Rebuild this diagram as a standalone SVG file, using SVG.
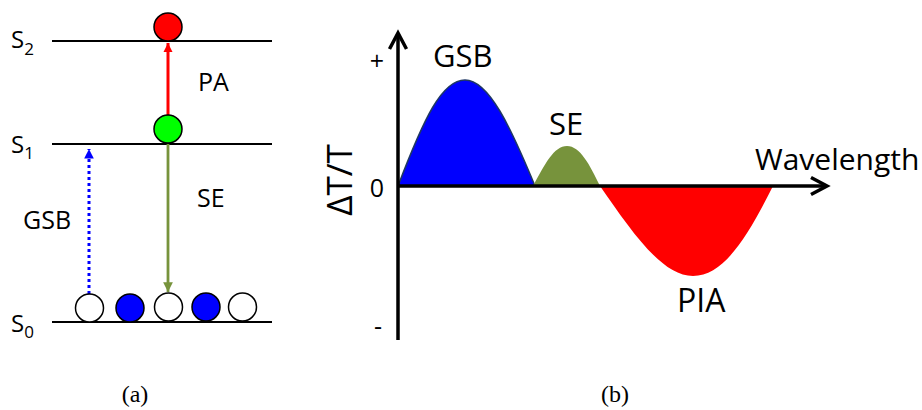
<svg xmlns="http://www.w3.org/2000/svg" width="922" height="410" viewBox="0 0 922 410">
<style>
  .lbl { font-family: "Open Sans", "Liberation Sans", sans-serif; fill: #000; }
  .cap { font-family: "Liberation Serif", "DejaVu Serif", serif; font-size: 24px; fill: #000; }
  .level { stroke: #000; stroke-width: 2; }
  .circ { stroke: #000; stroke-width: 1.5; }
  .axis { stroke: #000; stroke-width: 3.5; fill: none; }
</style>
<defs>
  <marker id="hRed" viewBox="0 0 10 10" refX="10" refY="5" markerWidth="3" markerHeight="3.2" orient="auto" markerUnits="strokeWidth">
    <path d="M0,0 L10,5 L0,10 Z" fill="#FF0000"/>
  </marker>
  <marker id="hOlive" viewBox="0 0 10 10" refX="10" refY="5" markerWidth="4.5" markerHeight="3.5" orient="auto" markerUnits="strokeWidth">
    <path d="M0,0 L10,5 L0,10 Z" fill="#77933C"/>
  </marker>
  <marker id="hBlue" viewBox="0 0 10 10" refX="10" refY="5" markerWidth="3.2" markerHeight="3.2" orient="auto" markerUnits="strokeWidth">
    <path d="M0,0 L10,5 L0,10 Z" fill="#0000FF"/>
  </marker>
</defs>

<!-- Panel (a) -->
<g id="levels">
  <line class="level" x1="52" y1="41" x2="272" y2="41"/>
  <line class="level" x1="52" y1="144" x2="272" y2="144"/>
  <line class="level" x1="52" y1="322" x2="272" y2="322"/>
</g>
<g id="level-labels">
  <text class="lbl" x="11" y="48" font-size="24">S<tspan font-size="17" dy="7">2</tspan></text>
  <text class="lbl" x="11" y="153" font-size="24">S<tspan font-size="17" dy="6">1</tspan></text>
  <text class="lbl" x="11" y="332" font-size="24">S<tspan font-size="17" dy="6">0</tspan></text>
</g>
<g id="connectors">
  <line x1="168" y1="116" x2="168" y2="43" stroke="#FF0000" stroke-width="3" marker-end="url(#hRed)"/>
  <line x1="168" y1="144" x2="168" y2="292" stroke="#77933C" stroke-width="2.8" marker-end="url(#hOlive)"/>
  <line x1="89" y1="294" x2="89" y2="149" stroke="#0000FF" stroke-width="3" stroke-dasharray="3,3" marker-end="url(#hBlue)"/>
</g>
<g id="state-s2"><circle class="circ" cx="168" cy="27" r="14" fill="#FF0000"/></g>
<g id="state-s1"><circle class="circ" cx="168" cy="129" r="14" fill="#00FF00"/></g>
<g id="ground-states">
  <circle class="circ" cx="89.5" cy="308" r="14" fill="#FFFFFF"/>
  <circle class="circ" cx="130" cy="308" r="14" fill="#0000FF"/>
  <circle class="circ" cx="168.5" cy="307" r="14" fill="#FFFFFF"/>
  <circle class="circ" cx="206" cy="307" r="14" fill="#0000FF"/>
  <circle class="circ" cx="242.5" cy="307" r="14" fill="#FFFFFF"/>
</g>
<g id="labels-a">
  <text class="lbl" x="198" y="91" font-size="25">PA</text>
  <text class="lbl" x="197" y="207" font-size="25">SE</text>
  <text class="lbl" x="23" y="229" font-size="25">GSB</text>
</g>
<text class="cap" x="135" y="402" text-anchor="middle">(a)</text>

<!-- Panel (b) -->
<g id="gsb-band"><path d="M398,186 C424,118 442,80 465,80 C489,80 511,128 535,186 Z" fill="#0000FF" stroke="#1F3864" stroke-width="1.5"/></g>
<g id="se-band"><path d="M533,186 C545,164 554,146 567,146 C580,146 590,165 600,186 Z" fill="#77933C"/></g>
<g id="pia-band"><path d="M600,186 C632,232 662,276 693,276 C724,276 748,236 773,186 Z" fill="#FF0000"/></g>
<g id="axes">
  <line class="axis" x1="398" y1="340" x2="398" y2="34"/>
  <polyline class="axis" points="389.5,49 398,33 406.5,49" stroke-linejoin="miter"/>
  <line class="axis" x1="398" y1="186" x2="826" y2="186"/>
  <polyline class="axis" points="811,177.5 827,186 811,194.5" stroke-linejoin="miter"/>
</g>
<g id="labels-b">
  <text class="lbl" x="377" y="70" font-size="25" text-anchor="middle">+</text>
  <text class="lbl" x="377" y="197" font-size="25" text-anchor="middle">0</text>
  <text class="lbl" x="378" y="335" font-size="25" text-anchor="middle">-</text>
  <text class="lbl" font-size="35" text-anchor="middle" transform="translate(352,180) rotate(-90)">ΔT/T</text>
  <text class="lbl" x="433" y="67" font-size="31">GSB</text>
  <text class="lbl" x="549" y="135" font-size="31">SE</text>
  <text class="lbl" x="677" y="312" font-size="32">PIA</text>
  <text class="lbl" x="755" y="170" font-size="30">Wavelength</text>
</g>
<text class="cap" x="615" y="402" text-anchor="middle">(b)</text>
</svg>
